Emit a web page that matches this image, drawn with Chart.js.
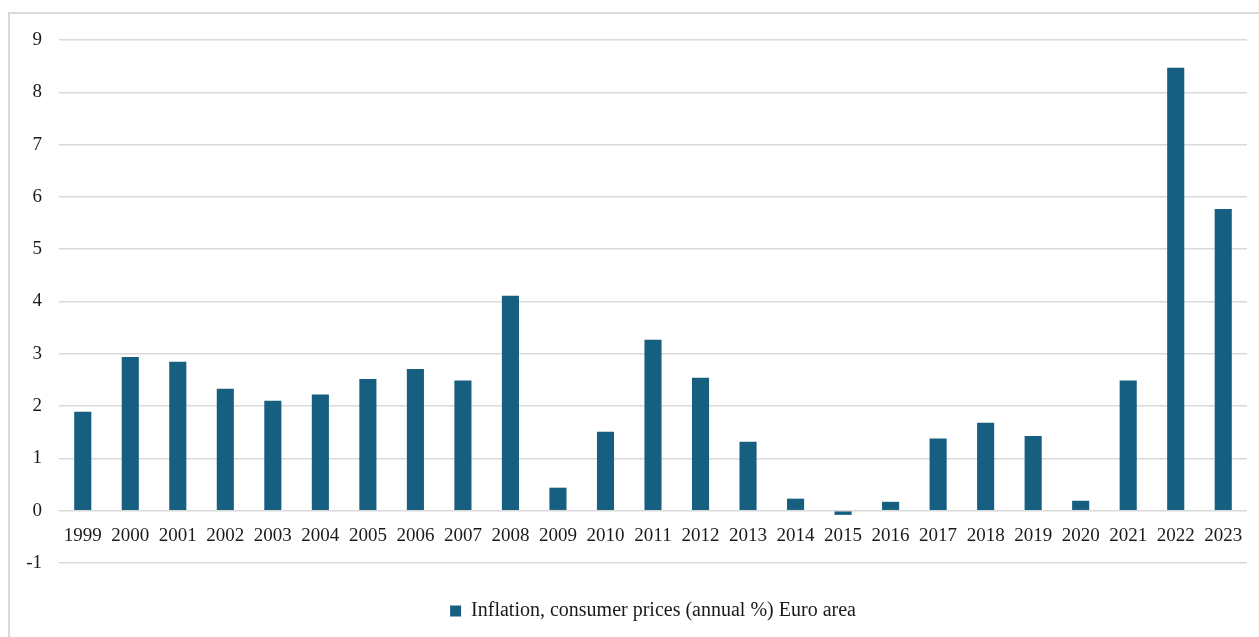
<!DOCTYPE html>
<html>
<head>
<meta charset="utf-8">
<title>Inflation, consumer prices (annual %) Euro area</title>
<script src="https://cdn.jsdelivr.net/npm/chart.js@4.4.1/dist/chart.umd.min.js"></script>
<style>
  html, body { margin: 0; padding: 0; background: #ffffff; overflow: hidden; }
  #frame {
    position: absolute; left: 8px; top: 12px; width: 1260px; height: 640px;
    border-left: 2px solid #d9d9d9; border-top: 2px solid #d9d9d9;
  }
  #wrap { position: absolute; left: 0; top: 0; width: 1259px; height: 637px; }
</style>
</head>
<body>
<div id="frame"></div>
<div id="wrap"><canvas id="chart-inflation"></canvas></div>
<script>
const years = ['1999', '2000', '2001', '2002', '2003', '2004', '2005', '2006', '2007', '2008',
    '2009', '2010', '2011', '2012', '2013', '2014', '2015', '2016', '2017', '2018',
    '2019', '2020', '2021', '2022', '2023'];
const inflation = [1.89, 2.94, 2.85, 2.33, 2.10, 2.22, 2.52, 2.71, 2.49, 4.11,
    0.44, 1.51, 3.27, 2.54, 1.32, 0.23, -0.08, 0.17, 1.38, 1.68,
    1.43, 0.19, 2.49, 8.47, 5.77];
const seriesName = 'Inflation, consumer prices (annual %) Euro area';
const yTicks = [-1, 0, 1, 2, 3, 4, 5, 6, 7, 8, 9];

const BAR_COLOR = '#175f80';
const GRID_COLOR = '#d9d9d9';
const FONT = "'Liberation Serif', 'Times New Roman', serif";

function createChart(chartId) {
    const chartElement = document.getElementById('chart-' + chartId);

    const myChart = new Chart(chartElement, {
        type: 'bar',
        data: {
            labels: years,
            datasets: [{
                label: seriesName,
                backgroundColor: BAR_COLOR,
                hoverBackgroundColor: BAR_COLOR,
                data: inflation,
                barPercentage: 0.36,
                categoryPercentage: 1.0
            }]
        },
        options: {
            responsive: true,
            maintainAspectRatio: false,
            animation: false,
            layout: { padding: { top: 40, right: 12, bottom: 6, left: 0 } },
            scales: {
                x: {
                    position: { y: 0 },
                    grid: { display: false },
                    border: { display: false },
                    ticks: {
                        color: '#1a1a1a',
                        font: { family: FONT, size: 19 },
                        padding: 6,
                        maxRotation: 0,
                        autoSkip: false
                    }
                },
                y: {
                    min: yTicks[0],
                    max: yTicks[yTicks.length - 1],
                    afterBuildTicks: (scale) => {
                        scale.ticks = yTicks.map(v => ({ value: v }));
                    },
                    afterFit: (scale) => { scale.width = 59; },
                    grid: { color: GRID_COLOR, lineWidth: 1.5, drawTicks: false },
                    border: { display: false },
                    ticks: {
                        color: '#1a1a1a',
                        font: { family: FONT, size: 19 },
                        padding: 17
                    }
                }
            },
            plugins: {
                legend: {
                    position: 'bottom',
                    fullSize: false,
                    labels: {
                        color: '#1a1a1a',
                        font: { family: FONT, size: 20 },
                        boxWidth: 11,
                        boxHeight: 11,
                        padding: 38
                    }
                },
                tooltip: { enabled: false }
            }
        }
    });

    return myChart;
}

createChart('inflation');
</script>
</body>
</html>
